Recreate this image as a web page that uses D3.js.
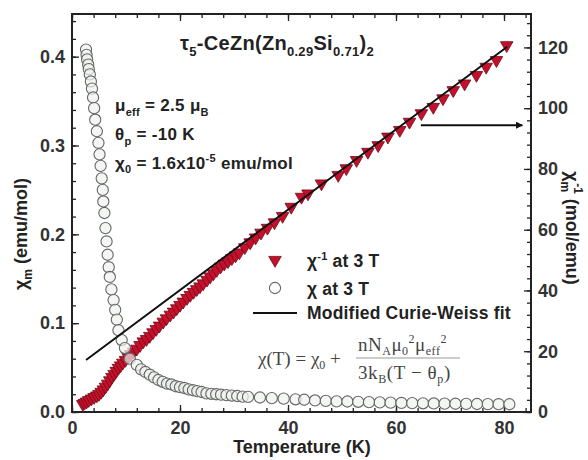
<!DOCTYPE html>
<html>
<head>
<meta charset="utf-8">
<script src="https://cdn.jsdelivr.net/npm/d3@7"></script>
<style>
  body { margin: 0; background: #fff; }
  svg { display: block; }
</style>
</head>
<body>
<div id="chart"></div>
<script>
// chi (left axis, open circles)
const chiTemp = [2.6, 2.7, 2.8, 3.0, 3.1, 3.3, 3.5, 3.7, 3.9, 4.1, 4.3, 4.6, 4.9, 5.1, 5.3, 5.5, 5.7, 5.8, 6.0, 6.2,
  6.4, 6.6, 6.8, 7.0, 7.3, 7.7, 8.0, 8.3, 8.6, 9.2, 9.8, 10.7, 12.0, 12.8, 13.6, 14.4, 15.2, 16.0, 16.8, 17.6,
  18.4, 19.2, 20.0, 20.8, 21.6, 22.4, 23.2, 24.0, 24.9, 25.8, 26.7, 27.6, 28.6, 29.6, 30.6, 31.6, 32.6, 34.8,
  37.0, 39.2, 41.4, 43.0, 45.0, 47.0, 49.0, 51.0, 53.0, 55.0, 57.0, 59.0, 61.0, 63.0, 65.0, 67.0, 69.0, 71.0,
  73.0, 75.0, 77.0, 79.0, 81.0];
const chiVal = [0.408, 0.402, 0.397, 0.391, 0.386, 0.380, 0.372, 0.364, 0.354, 0.342, 0.329, 0.316, 0.303, 0.290,
  0.277, 0.263, 0.250, 0.237, 0.224, 0.207, 0.192, 0.177, 0.163, 0.152, 0.138, 0.126, 0.115, 0.104, 0.092, 0.081,
  0.072, 0.060, 0.053, 0.048, 0.045, 0.042, 0.039, 0.036, 0.034, 0.032, 0.031, 0.029, 0.028, 0.027, 0.0255,
  0.0245, 0.0235, 0.0225, 0.021, 0.0205, 0.020, 0.0195, 0.019, 0.0185, 0.018, 0.0173, 0.017, 0.0163, 0.0156,
  0.015, 0.0143, 0.0138, 0.013, 0.0125, 0.012, 0.0118, 0.0115, 0.0111, 0.0108, 0.0105, 0.0102, 0.0100, 0.0098,
  0.0096, 0.0094, 0.0093, 0.0092, 0.0090, 0.0089, 0.0088, 0.0087];

// inverse chi (right axis, red triangles)
const invTemp = [2.0, 2.3, 2.7, 3.1, 3.6, 4.1, 4.6, 5.0, 5.4, 5.8, 6.2, 6.6, 7.0, 7.4, 7.8, 8.2, 8.6, 9.0, 9.4, 9.9,
  10.4, 10.9, 11.4, 12.0, 12.6, 13.2, 13.8, 14.4, 15.0, 15.6, 16.2, 16.9, 17.5, 18.2, 18.8, 19.4, 20.0, 20.6,
  21.3, 21.9, 22.5, 23.1, 23.7, 24.3, 25.0, 25.6, 26.2, 26.8, 27.5, 28.2, 28.9, 29.6, 30.3, 31.0, 32.0, 33.0,
  34.0, 35.0, 36.2, 37.5, 39.0, 40.6, 42.5, 43.7, 46.2, 49.3, 50.8, 52.7, 54.8, 56.7, 58.5, 60.7, 62.5, 64.7,
  66.9, 68.7, 70.6, 72.7, 74.9, 76.7, 78.6, 80.5];
const invVal = [2.6, 3.0, 3.4, 3.9, 4.4, 4.9, 5.4, 5.9, 6.6, 7.4, 8.3, 9.3, 10.4, 11.5, 12.5, 13.5, 14.5, 15.3, 16.2,
  17.1, 18.1, 19.0, 19.8, 20.8, 22.0, 23.2, 24.0, 25.0, 26.2, 27.3, 28.4, 29.7, 30.8, 32.0, 33.0, 34.1, 35.2,
  36.3, 37.5, 38.5, 39.5, 40.4, 41.3, 42.3, 43.5, 44.6, 45.6, 46.7, 47.8, 48.8, 49.6, 50.6, 51.5, 52.5, 54.2,
  55.8, 57.4, 59.0, 60.6, 62.4, 64.5, 67.5, 70.8, 71.9, 75.2, 78.0, 80.2, 82.9, 85.6, 87.8, 90.6, 92.8, 95.5,
  98.3, 100.4, 103.2, 105.9, 108.1, 110.9, 113.6, 115.8, 120.7];

// modified Curie-Weiss fit (right axis)
const fitTemp = [2.6, 41.6, 80.6];
const fitVal = [17.1, 68.7, 120.2];

const xTicks = [0, 20, 40, 60, 80];
const leftTicks = [0, 0.1, 0.2, 0.3, 0.4];
const rightTicks = [0, 20, 40, 60, 80, 100, 120];

const width = 588, height = 460;
const margin = {top: 14, right: 57, bottom: 48, left: 72};
const sans = "'Liberation Sans', Arial, Helvetica, sans-serif";
const serif = "'Liberation Serif', 'Times New Roman', serif";
const ink = "#222";

const svg = d3.select("#chart").append("svg")
  .attr("width", width)
  .attr("height", height)
  .attr("font-family", sans);

const x = d3.scaleLinear().domain([0, 85]).range([margin.left, width - margin.right]);
const yL = d3.scaleLinear().domain([0, 0.448]).range([height - margin.bottom, margin.top]);
const yR = d3.scaleLinear().domain([0, 131]).range([height - margin.bottom, margin.top]);

const x0 = margin.left, x1 = width - margin.right;
const y0 = height - margin.bottom, y1 = margin.top;

// axes with ticks pointing inward
function styleAxis(g) {
  g.select(".domain").remove();
  g.selectAll(".tick line").attr("stroke", ink).attr("stroke-width", 1.3);
  g.selectAll(".tick text")
    .attr("fill", "#333")
    .attr("font-size", 18)
    .attr("font-weight", "bold")
    .attr("font-family", sans);
}

const minorX = d3.range(0, 85, 4);
const minorL = d3.range(0, 0.45, 0.02);
const minorR = d3.range(0, 131, 4);

svg.append("g").attr("transform", `translate(0,${y0})`)
  .call(d3.axisBottom(x).tickValues(minorX).tickFormat("").tickSize(-4)).call(styleAxis);
svg.append("g").attr("transform", `translate(0,${y0})`)
  .call(d3.axisBottom(x).tickValues(xTicks).tickFormat(d3.format("d")).tickSize(-7).tickPadding(9)).call(styleAxis);
svg.append("g").attr("transform", `translate(0,${y1})`)
  .call(d3.axisTop(x).tickValues(minorX).tickFormat("").tickSize(-4)).call(styleAxis);
svg.append("g").attr("transform", `translate(0,${y1})`)
  .call(d3.axisTop(x).tickValues(xTicks).tickFormat("").tickSize(-7)).call(styleAxis);

svg.append("g").attr("transform", `translate(${x0},0)`)
  .call(d3.axisLeft(yL).tickValues(minorL).tickFormat("").tickSize(-4)).call(styleAxis);
svg.append("g").attr("transform", `translate(${x0},0)`)
  .call(d3.axisLeft(yL).tickValues(leftTicks).tickFormat(d3.format(".1f")).tickSize(-7).tickPadding(7)).call(styleAxis);

svg.append("g").attr("transform", `translate(${x1},0)`)
  .call(d3.axisRight(yR).tickValues(minorR).tickFormat("").tickSize(-4)).call(styleAxis);
svg.append("g").attr("transform", `translate(${x1},0)`)
  .call(d3.axisRight(yR).tickValues(rightTicks).tickFormat(d3.format("d")).tickSize(-7).tickPadding(7)).call(styleAxis);

svg.append("rect")
  .attr("x", x0).attr("y", y1)
  .attr("width", x1 - x0).attr("height", y0 - y1)
  .attr("fill", "none").attr("stroke", ink).attr("stroke-width", 2);

// data marks
const plot = svg.append("g");

plot.append("g")
  .selectAll("path")
  .data(invTemp.map((t, i) => [t, invVal[i]]))
  .join("path")
  .attr("transform", d => `translate(${x(d[0])},${yR(d[1])}) rotate(180)`)
  .attr("d", d3.symbol(d3.symbolTriangle, 68))
  .attr("fill", "#c5102c")
  .attr("stroke", "#6e0a18")
  .attr("stroke-width", 0.8);

plot.append("g")
  .selectAll("circle")
  .data(chiTemp.map((t, i) => [t, chiVal[i]]))
  .join("circle")
  .attr("cx", d => x(d[0]))
  .attr("cy", d => yL(d[1]))
  .attr("r", 5.6)
  .attr("fill", "#eef2ee")
  .attr("fill-opacity", 0.7)
  .attr("stroke", "#666")
  .attr("stroke-width", 1.1);

plot.append("path")
  .datum(fitTemp.map((t, i) => [t, fitVal[i]]))
  .attr("fill", "none")
  .attr("stroke", "#111")
  .attr("stroke-width", 2)
  .attr("d", d3.line().x(d => x(d[0])).y(d => yR(d[1])));

// arrow to right axis
svg.append("defs").append("marker")
  .attr("id", "head")
  .attr("viewBox", "0 0 10 10")
  .attr("refX", 9).attr("refY", 5)
  .attr("markerWidth", 7).attr("markerHeight", 7)
  .attr("markerUnits", "userSpaceOnUse")
  .attr("orient", "auto")
  .append("path")
  .attr("d", "M0,0L10,5L0,10z")
  .attr("fill", "#111");

svg.append("line")
  .attr("x1", x(64.6)).attr("x2", x(83.4))
  .attr("y1", yR(94.4)).attr("y2", yR(94.4))
  .attr("stroke", "#111").attr("stroke-width", 2)
  .attr("marker-end", "url(#head)");

// helper for text with sub/superscripts
function rich(sel, parts) {
  parts.forEach(p => {
    const t = sel.append("tspan").text(p.t);
    if (p.size) t.attr("font-size", p.size);
    if (p.dy) t.attr("dy", p.dy);
    if (p.dx) t.attr("dx", p.dx);
  });
  return sel;
}

// title
rich(svg.append("text")
  .attr("x", 180).attr("y", 50)
  .attr("font-size", 20).attr("font-weight", "bold").attr("fill", ink)
  .attr("letter-spacing", 0.3), [
  {t: "τ"}, {t: "5", size: 13, dy: 6}, {t: "-CeZn(Zn", dy: -6}, {t: "0.29", size: 13, dy: 6},
  {t: "Si", dy: -6}, {t: "0.71", size: 13, dy: 6}, {t: ")", dy: -6}, {t: "2", size: 13, dy: 6}
]);

// fit parameters
const params = svg.append("g").attr("font-size", 17).attr("font-weight", "bold").attr("fill", ink)
  .attr("letter-spacing", 0.3);
rich(params.append("text").attr("x", 115).attr("y", 111), [
  {t: "μ"}, {t: "eff", size: 11, dy: 5}, {t: " = 2.5 μ", dy: -5}, {t: "B", size: 11, dy: 5}
]);
rich(params.append("text").attr("x", 115).attr("y", 140), [
  {t: "θ"}, {t: "p", size: 11, dy: 5}, {t: " = -10 K", dy: -5}
]);
rich(params.append("text").attr("x", 115).attr("y", 169), [
  {t: "χ"}, {t: "0", size: 11, dy: 4}, {t: " = 1.6x10", dy: -4}, {t: "-5", size: 11, dy: -7},
  {t: " emu/mol", dy: 7}
]);

// legend
const legend = svg.append("g").attr("font-size", 17.5).attr("font-weight", "bold").attr("fill", ink)
  .attr("letter-spacing", 0.2);
legend.append("path")
  .attr("transform", "translate(275,260) rotate(180)")
  .attr("d", d3.symbol(d3.symbolTriangle, 68))
  .attr("fill", "#c5102c").attr("stroke", "#6e0a18").attr("stroke-width", 0.8);
rich(legend.append("text").attr("x", 307).attr("y", 267), [
  {t: "χ"}, {t: "-1", size: 11, dy: -7}, {t: " at 3 T", dy: 7}
]);
legend.append("circle")
  .attr("cx", 275).attr("cy", 288).attr("r", 5.6)
  .attr("fill", "#fff").attr("stroke", "#666").attr("stroke-width", 1.1);
legend.append("text").attr("x", 307).attr("y", 295).text("χ at 3 T");
legend.append("line")
  .attr("x1", 253).attr("x2", 297).attr("y1", 313).attr("y2", 313)
  .attr("stroke", "#111").attr("stroke-width", 2);
legend.append("text").attr("x", 307).attr("y", 319).text("Modified Curie-Weiss fit");

// formula
const formula = svg.append("g").attr("font-family", serif).attr("font-size", 19).attr("fill", "#444");
rich(formula.append("text").attr("x", 258).attr("y", 365), [
  {t: "χ(T) = χ"}, {t: "0", size: 12, dy: 4}, {t: " +", dy: -4}
]);
rich(formula.append("text").attr("x", 358).attr("y", 351).attr("letter-spacing", 0.5), [
  {t: "nN"}, {t: "A", size: 12, dy: 4}, {t: "μ", dy: -4}, {t: "0", size: 12, dy: 4},
  {t: "2", size: 12, dy: -12}, {t: "μ", dy: 8}, {t: "eff", size: 12, dy: 4},
  {t: "2", size: 12, dy: -12}
]);
formula.append("line")
  .attr("x1", 356).attr("x2", 460).attr("y1", 358).attr("y2", 358)
  .attr("stroke", "#999").attr("stroke-width", 1);
rich(formula.append("text").attr("x", 358).attr("y", 379).attr("letter-spacing", 0.6), [
  {t: "3k"}, {t: "B", size: 12, dy: 4}, {t: "(T − θ", dy: -4}, {t: "p", size: 12, dy: 4}, {t: ")", dy: -4}
]);

// axis titles
svg.append("text")
  .attr("x", 302).attr("y", 453)
  .attr("text-anchor", "middle")
  .attr("font-size", 18).attr("font-weight", "bold").attr("fill", ink)
  .text("Temperature (K)");

rich(svg.append("text")
  .attr("transform", "translate(27,234) rotate(-90)")
  .attr("text-anchor", "middle")
  .attr("font-size", 18).attr("font-weight", "bold").attr("fill", ink), [
  {t: "χ"}, {t: "m", size: 12, dy: 5}, {t: " (emu/mol)", dy: -5}
]);

rich(svg.append("text")
  .attr("transform", "translate(566,228) rotate(90)")
  .attr("text-anchor", "middle")
  .attr("font-size", 18).attr("font-weight", "bold").attr("fill", ink), [
  {t: "χ"}, {t: "m", size: 12, dy: 5}, {t: "-1", size: 12, dx: -9, dy: -13}, {t: " (mol/emu)", dy: 8}
]);
</script>
</body>
</html>
